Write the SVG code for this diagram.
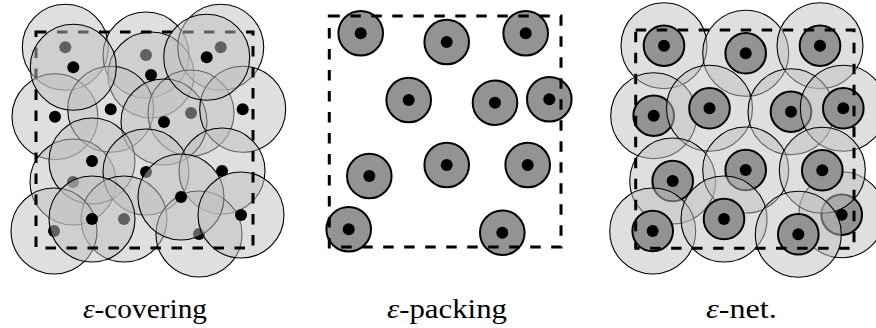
<svg xmlns="http://www.w3.org/2000/svg" xmlns:xlink="http://www.w3.org/1999/xlink" width="876" height="328" viewBox="0 0 876 328">
<defs>
<circle id="big" cx="0" cy="0" r="43" fill="#c0c0c0" fill-opacity="0.5" stroke="#000" stroke-width="1.1"/>
<circle id="dot" cx="0" cy="0" r="6" fill="#000"/>
<circle id="disc" cx="0" cy="0" r="22.3" fill="#939393" stroke="#000" stroke-width="2"/>
<circle id="inner" cx="0" cy="0" r="20.3" fill="#939393" stroke="#000" stroke-width="2"/>
</defs>
<rect width="876" height="328" fill="#fff"/>
<g id="covering">
<g id="cv1"><use href="#big" x="65.3" y="47.3"/><use href="#dot" x="65.3" y="47.3"/></g>
<g id="cv3"><use href="#big" x="146" y="55"/><use href="#dot" x="146" y="55"/></g>
<g id="cv4"><use href="#big" x="151" y="75"/><use href="#dot" x="151" y="75"/></g>
<g id="cv5"><use href="#big" x="220.7" y="47.3"/><use href="#dot" x="220.7" y="47.3"/></g>
<g id="cv7"><use href="#big" x="55" y="116.7"/><use href="#dot" x="55" y="116.7"/></g>
<g id="cv8"><use href="#big" x="110.7" y="109.3"/><use href="#dot" x="110.7" y="109.3"/></g>
<g id="cv10"><use href="#big" x="191" y="113"/><use href="#dot" x="191" y="113"/></g>
<g id="cv9"><use href="#big" x="164" y="122"/><use href="#dot" x="164" y="122"/></g>
<g id="cv11"><use href="#big" x="242.7" y="109.3"/><use href="#dot" x="242.7" y="109.3"/></g>
<g id="cv13"><use href="#big" x="73" y="182"/><use href="#dot" x="73" y="182"/></g>
<g id="cv12"><use href="#big" x="92" y="161"/><use href="#dot" x="92" y="161"/></g>
<g id="cv14"><use href="#big" x="146" y="172"/><use href="#dot" x="146" y="172"/></g>
<g id="cv15"><use href="#big" x="222" y="171"/><use href="#dot" x="222" y="171"/></g>
<g id="cv18"><use href="#big" x="124" y="219"/><use href="#dot" x="124" y="219"/></g>
<g id="cv19"><use href="#big" x="54" y="231"/><use href="#dot" x="54" y="231"/></g>
<g id="cv17"><use href="#big" x="92" y="219"/><use href="#dot" x="92" y="219"/></g>
<g id="cv21"><use href="#big" x="199" y="234"/><use href="#dot" x="199" y="234"/></g>
<g id="cv16"><use href="#big" x="181" y="197"/><use href="#dot" x="181" y="197"/></g>
<g id="cv20"><use href="#big" x="241" y="215"/><use href="#dot" x="241" y="215"/></g>
<rect id="cv-box" x="36" y="32" width="217" height="216" fill="none" stroke="#000" stroke-width="3" stroke-dasharray="10.5 10.5"/>
<g id="cv2"><use href="#big" x="73.3" y="67.3"/><use href="#dot" x="73.3" y="67.3"/></g>
<g id="cv6"><use href="#big" x="206.7" y="57.3"/><use href="#dot" x="206.7" y="57.3"/></g>
</g>
<g id="packing">
<g id="pk1"><use href="#disc" x="360.7" y="33.3"/><use href="#dot" x="360.7" y="33.3"/></g>
<g id="pk2"><use href="#disc" x="446.7" y="42"/><use href="#dot" x="446.7" y="42"/></g>
<g id="pk3"><use href="#disc" x="525.7" y="33.3"/><use href="#dot" x="525.7" y="33.3"/></g>
<g id="pk4"><use href="#disc" x="408.7" y="100"/><use href="#dot" x="408.7" y="100"/></g>
<g id="pk5"><use href="#disc" x="495" y="102.7"/><use href="#dot" x="495" y="102.7"/></g>
<g id="pk6"><use href="#disc" x="549.3" y="99.3"/><use href="#dot" x="549.3" y="99.3"/></g>
<g id="pk7"><use href="#disc" x="369.3" y="176"/><use href="#dot" x="369.3" y="176"/></g>
<g id="pk8"><use href="#disc" x="446.7" y="165"/><use href="#dot" x="446.7" y="165"/></g>
<g id="pk9"><use href="#disc" x="527.7" y="165"/><use href="#dot" x="527.7" y="165"/></g>
<g id="pk10"><use href="#disc" x="348.7" y="229.3"/><use href="#dot" x="348.7" y="229.3"/></g>
<g id="pk11"><use href="#disc" x="502.3" y="232.7"/><use href="#dot" x="502.3" y="232.7"/></g>
<rect id="pk-box" x="329.3" y="16" width="231.7" height="231" fill="none" stroke="#000" stroke-width="3" stroke-dasharray="10.5 10.5"/>
</g>
<g id="net">
<g id="nt1"><use href="#big" x="664" y="45.7"/><use href="#inner" x="664" y="45.7"/><use href="#dot" x="664" y="45.7"/></g>
<g id="nt2"><use href="#big" x="745.7" y="53.3"/><use href="#inner" x="745.7" y="53.3"/><use href="#dot" x="745.7" y="53.3"/></g>
<g id="nt3"><use href="#big" x="820" y="45.7"/><use href="#inner" x="820" y="45.7"/><use href="#dot" x="820" y="45.7"/></g>
<g id="nt4"><use href="#big" x="653.7" y="115.7"/><use href="#inner" x="653.7" y="115.7"/><use href="#dot" x="653.7" y="115.7"/></g>
<g id="nt5"><use href="#big" x="709.5" y="108.3"/><use href="#inner" x="709.5" y="108.3"/><use href="#dot" x="709.5" y="108.3"/></g>
<g id="nt6"><use href="#big" x="791" y="111.7"/><use href="#inner" x="791" y="111.7"/><use href="#dot" x="791" y="111.7"/></g>
<g id="nt7"><use href="#big" x="843.3" y="108.3"/><use href="#inner" x="843.3" y="108.3"/><use href="#dot" x="843.3" y="108.3"/></g>
<g id="nt8"><use href="#big" x="672.7" y="181"/><use href="#inner" x="672.7" y="181"/><use href="#dot" x="672.7" y="181"/></g>
<g id="nt9"><use href="#big" x="745.7" y="170"/><use href="#inner" x="745.7" y="170"/><use href="#dot" x="745.7" y="170"/></g>
<g id="nt14"><use href="#big" x="841.7" y="214.7"/><use href="#inner" x="841.7" y="214.7"/><use href="#dot" x="841.7" y="214.7"/></g>
<g id="nt10"><use href="#big" x="822.3" y="170.3"/><use href="#inner" x="822.3" y="170.3"/><use href="#dot" x="822.3" y="170.3"/></g>
<g id="nt11"><use href="#big" x="652.7" y="231"/><use href="#inner" x="652.7" y="231"/><use href="#dot" x="652.7" y="231"/></g>
<g id="nt12"><use href="#big" x="724" y="219"/><use href="#inner" x="724" y="219"/><use href="#dot" x="724" y="219"/></g>
<g id="nt13"><use href="#big" x="798.3" y="234.3"/><use href="#inner" x="798.3" y="234.3"/><use href="#dot" x="798.3" y="234.3"/></g>
<rect id="nt-box" x="635.7" y="30" width="218.3" height="218.3" fill="none" stroke="#000" stroke-width="3" stroke-dasharray="10.5 10.5"/>
</g>
<g id="connectors"/>
<g id="labels">
<text x="83" y="318" font-family="Liberation Serif" font-size="28" fill="#000" textLength="124" lengthAdjust="spacingAndGlyphs"><tspan font-style="italic">ε</tspan>-covering</text>
<text x="387" y="318" font-family="Liberation Serif" font-size="28" fill="#000" textLength="120" lengthAdjust="spacingAndGlyphs"><tspan font-style="italic">ε</tspan>-packing</text>
<text x="706" y="318" font-family="Liberation Serif" font-size="28" fill="#000" textLength="70.7" lengthAdjust="spacingAndGlyphs"><tspan font-style="italic">ε</tspan>-net.</text>
</g>
</svg>
